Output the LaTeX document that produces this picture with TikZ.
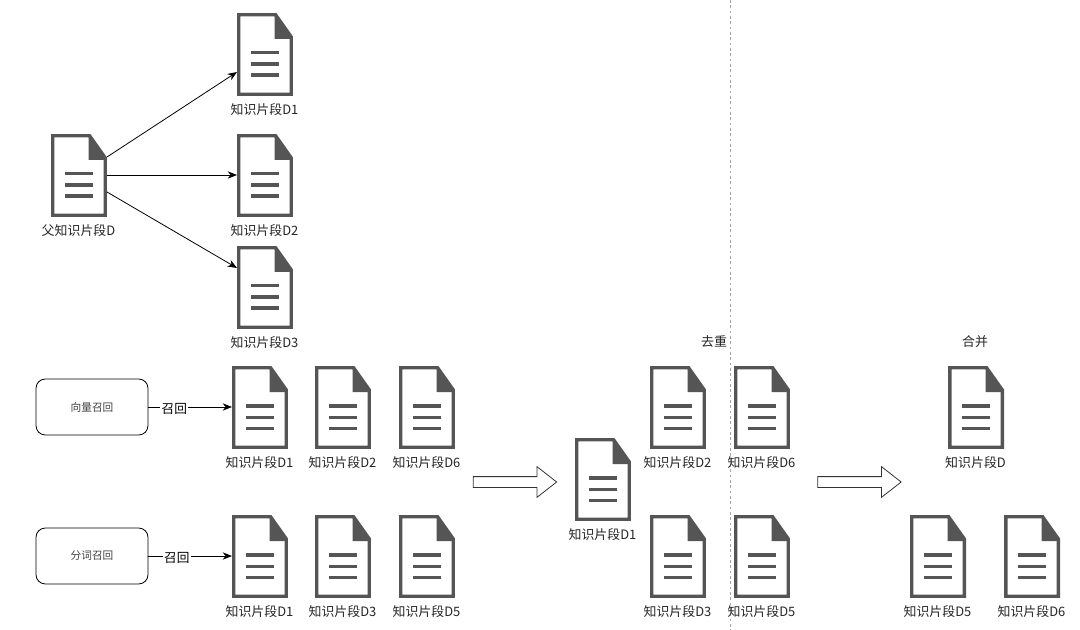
\documentclass[tikz,border=0pt]{standalone}
\usepackage{fontspec}
\setmainfont{Noto Sans CJK SC}
\usetikzlibrary{arrows.meta,shapes.arrows,calc}
\definecolor{docgray}{HTML}{555555}
\tikzset{
  docbox/.style={minimum width=42pt,minimum height=62.25pt,inner sep=0pt,outer sep=0pt,anchor=north west},
  doclabel/.style={font=\fontsize{9.7pt}{11pt}\selectfont,text=black!85,inner sep=0pt},
  conn/.style={draw=black,line width=0.6pt,-{Stealth[length=7pt,width=5.5pt]}},
  recall/.style={draw=black,rounded corners=7pt,line width=0.6pt,minimum width=84pt,minimum height=42pt,inner sep=0pt,font=\fontsize{8pt}{9pt}\selectfont,text=black!75},
  bigarrow/.style={draw=black!80,fill=white,line width=0.6pt,single arrow,single arrow head extend=7.5pt,single arrow tip angle=76,minimum height=62.5pt,minimum width=22.5pt,inner xsep=0pt,inner ysep=3.75pt},
  edgelabel/.style={fill=white,inner sep=1pt,yshift=-1.5pt,font=\fontsize{9.5pt}{11pt}\selectfont}
}
% #1 name, #2 x, #3 y (top-left, px), #4 label text
\newcommand{\docitem}[4]{%
  \node[docbox] (#1) at (#2,#3) {};
  \begin{scope}[shift={(#2,#3)}]
    \draw[docgray,line width=2.6pt,miter limit=10,fill=white] (1.75,1.75) -- (38.5,1.75) -- (54.25,24) -- (54.25,81.25) -- (1.75,81.25) -- cycle;
    \fill[docgray] (37.5,1.75) -- (56,26) -- (37.5,26) -- cycle;
    \fill[docgray] (13.5,38) rectangle (42,41.5);
    \fill[docgray] (13.5,49.5) rectangle (42,53);
    \fill[docgray] (13.5,60.5) rectangle (42,64);
  \end{scope}
  \node[doclabel] (#1t) at ($(#1.south)+(-0.5,14)$) {#4};
}
\begin{document}
\begin{tikzpicture}[x=0.75pt,y=-0.75pt]
\useasboundingbox (0,0) rectangle (1080,630);
\fill[white] (0,0) rectangle (1080,630);
\coordinate (lt) at (730,0);
\coordinate (lb) at (730,630);
\draw[black!35,line width=0.4pt,dash pattern=on 2pt off 2pt] (lt) -- (lb);

\docitem{p}{51}{134}{父知识片段D}
\docitem{a}{237}{13}{知识片段D1}
\docitem{b}{237}{134}{知识片段D2}
\docitem{c}{237}{246}{知识片段D3}

\coordinate (ps1) at ($(p.north east)+(0,23)$);
\coordinate (ps2) at ($(p.north east)+(0,41)$);
\coordinate (ps3) at ($(p.north east)+(0,58)$);
\coordinate (ae) at ($(a.north west)+(0,59)$);
\coordinate (be) at ($(b.north west)+(0,41)$);
\coordinate (ce) at ($(c.north west)+(0,22)$);
\draw[conn] (ps1) -- (ae);
\draw[conn] (ps2) -- (be);
\draw[conn] (ps3) -- (ce);

\node[recall] (r1) at (92,407) {向量召回};
\node[recall] (r2) at (92,556) {分词召回};

\docitem{d1}{232}{366}{知识片段D1}
\docitem{d2}{315}{366}{知识片段D2}
\docitem{d3}{399}{366}{知识片段D6}
\docitem{e1}{232}{515}{知识片段D1}
\docitem{e2}{315}{515}{知识片段D3}
\docitem{e3}{399}{515}{知识片段D5}

\draw[conn] (r1.east) -- node[edgelabel,pos=0.31] {召回} (d1.west |- r1.east);
\draw[conn] (r2.east) -- node[edgelabel,pos=0.34] {召回} (e1.west |- r2.east);

\node[bigarrow] (ar1) at (511.5,482) {};
\docitem{m}{575}{438}{知识片段D1}
\docitem{f1}{650}{366}{知识片段D2}
\docitem{f2}{734}{366}{知识片段D6}
\docitem{g1}{650}{515}{知识片段D3}
\docitem{g2}{734}{515}{知识片段D5}
\node[doclabel] (qc) at (714,342) {去重};

\node[bigarrow] (ar2) at (856,482) {};
\node[doclabel] (hb) at (975,342) {合并};
\docitem{h}{948}{366}{知识片段D}
\docitem{i1}{910}{515}{知识片段D5}
\docitem{i2}{1004}{515}{知识片段D6}
\end{tikzpicture}
\end{document}
